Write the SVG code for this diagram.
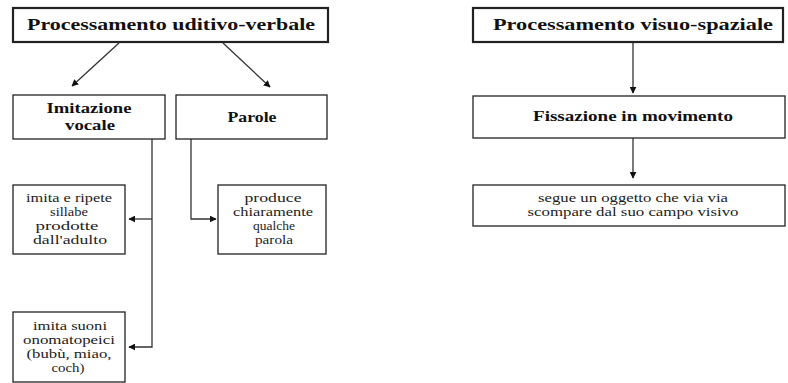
<svg xmlns="http://www.w3.org/2000/svg" width="788" height="383" viewBox="0 0 788 383">
<style>
.box{fill:#fff;stroke:#222;stroke-width:1.3}
.tbox{fill:#fff;stroke:#222;stroke-width:2.2}
.t{font-family:"Liberation Serif",serif;font-weight:bold;fill:#111;text-anchor:middle}
.s{font-family:"Liberation Serif",serif;fill:#222;text-anchor:middle;font-size:12.5px}
.c{fill:none;stroke:#333;stroke-width:1.3}
</style>
<defs>
<marker id="ah" viewBox="0 0 10 10" refX="9" refY="5" markerWidth="7" markerHeight="7" markerUnits="userSpaceOnUse" orient="auto">
<path d="M0,0 L10,5 L0,10 z" fill="#111"/>
</marker>
</defs>
<rect width="788" height="383" fill="#fff"/>
<g id="connectors">
<line class="c" x1="119" y1="43" x2="72" y2="86" marker-end="url(#ah)"/>
<line class="c" x1="223" y1="43" x2="270" y2="87" marker-end="url(#ah)"/>
<polyline class="c" points="152,139 152,347 129,347" marker-end="url(#ah)"/>
<polyline class="c" points="152,219 129,219" marker-end="url(#ah)"/>
<polyline class="c" points="191,139 191,219 216,219" marker-end="url(#ah)"/>
<line class="c" x1="633" y1="43" x2="633" y2="93" marker-end="url(#ah)"/>
<line class="c" x1="633" y1="138" x2="633" y2="178" marker-end="url(#ah)"/>
</g>
<g id="n1">
<rect class="tbox" x="13" y="8" width="315" height="34"/>
<text class="t" x="171" y="30" font-size="17" textLength="288" lengthAdjust="spacingAndGlyphs">Processamento uditivo-verbale</text>
</g>
<g id="n2">
<rect class="box" x="13" y="95" width="152" height="44"/>
<text class="t" x="89" y="113" font-size="14.5" textLength="85" lengthAdjust="spacingAndGlyphs">Imitazione</text>
<text class="t" x="90" y="130" font-size="14.5" textLength="50" lengthAdjust="spacingAndGlyphs">vocale</text>
</g>
<g id="n3">
<rect class="box" x="176" y="95" width="151" height="44"/>
<text class="t" x="252" y="122" font-size="14.5" textLength="49" lengthAdjust="spacingAndGlyphs">Parole</text>
</g>
<g id="n4">
<rect class="box" x="13" y="185" width="112" height="69"/>
<text class="s" x="69" y="202" textLength="86" lengthAdjust="spacingAndGlyphs">imita e ripete</text>
<text class="s" x="69" y="216" textLength="38" lengthAdjust="spacingAndGlyphs">sillabe</text>
<text class="s" x="67" y="230" textLength="63" lengthAdjust="spacingAndGlyphs">prodotte</text>
<text class="s" x="70" y="244" textLength="74" lengthAdjust="spacingAndGlyphs">dall'adulto</text>
</g>
<g id="n5">
<rect class="box" x="13" y="312" width="112" height="70"/>
<text class="s" x="70" y="330" textLength="74" lengthAdjust="spacingAndGlyphs">imita suoni</text>
<text class="s" x="69" y="344" textLength="92" lengthAdjust="spacingAndGlyphs">onomatopeici</text>
<text class="s" x="69" y="358" textLength="85" lengthAdjust="spacingAndGlyphs">(bubù, miao,</text>
<text class="s" x="68" y="372" textLength="33" lengthAdjust="spacingAndGlyphs">coch)</text>
</g>
<g id="n6">
<rect class="box" x="218" y="185" width="108" height="69"/>
<text class="s" x="273" y="202" textLength="57" lengthAdjust="spacingAndGlyphs">produce</text>
<text class="s" x="273" y="216" textLength="80" lengthAdjust="spacingAndGlyphs">chiaramente</text>
<text class="s" x="274" y="230" textLength="42" lengthAdjust="spacingAndGlyphs">qualche</text>
<text class="s" x="274" y="244" textLength="38" lengthAdjust="spacingAndGlyphs">parola</text>
</g>
<g id="n7">
<rect class="tbox" x="473" y="8" width="310" height="34"/>
<text class="t" x="633" y="30" font-size="16.5" textLength="280" lengthAdjust="spacingAndGlyphs">Processamento visuo-spaziale</text>
</g>
<g id="n8">
<rect class="box" x="473" y="96" width="312" height="42"/>
<text class="t" x="633" y="121" font-size="14" textLength="200" lengthAdjust="spacingAndGlyphs">Fissazione in movimento</text>
</g>
<g id="n9">
<rect class="box" x="473" y="185" width="312" height="41"/>
<text class="s" x="633" y="202" textLength="190" lengthAdjust="spacingAndGlyphs">segue un oggetto che via via</text>
<text class="s" x="633" y="216" textLength="211" lengthAdjust="spacingAndGlyphs">scompare dal suo campo visivo</text>
</g>
</svg>
